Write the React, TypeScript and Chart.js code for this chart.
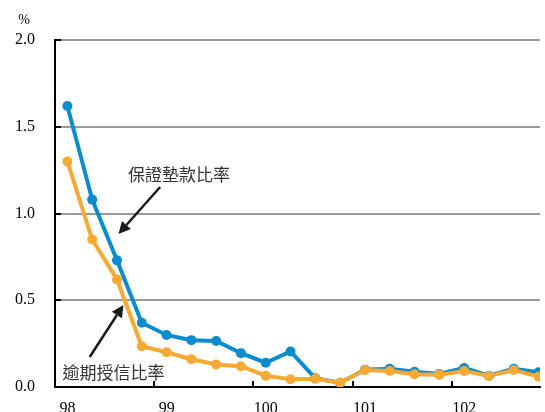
import React, { useEffect, useRef } from "react";
import { Chart, registerables } from "chart.js";

Chart.register(...registerables);

const quarters = [
  "98Q1", "98Q2", "98Q3", "98Q4",
  "99Q1", "99Q2", "99Q3", "99Q4",
  "100Q1", "100Q2", "100Q3", "100Q4",
  "101Q1", "101Q2", "101Q3", "101Q4",
  "102Q1", "102Q2", "102Q3", "102Q4",
];
const guaranteeRatio = [
  1.62, 1.08, 0.73, 0.37, 0.30, 0.27, 0.265, 0.195, 0.14, 0.205,
  0.05, 0.025, 0.10, 0.105, 0.088, 0.075, 0.11, 0.065, 0.105, 0.085,
];
const overdueRatio = [
  1.30, 0.85, 0.62, 0.235, 0.20, 0.16, 0.13, 0.12, 0.065, 0.045,
  0.048, 0.025, 0.098, 0.092, 0.073, 0.07, 0.092, 0.063, 0.098, 0.06,
];
const yearLabels = ["98", "99", "100", "101", "102"];
const yTicks = [0, 0.5, 1.0, 1.5, 2.0];

const BLUE = "#0b8ccf";
const ORANGE = "#f6a933";

const toPoints = (arr: number[]) => arr.map((v, i) => ({ x: i + 0.5, y: v }));

const decorPlugin = {
  id: "decor",
  afterDraw(chart: any) {
    const { ctx, scales, chartArea } = chart;
    const xs = scales.x;
    const ys = scales.y;
    ctx.save();
    ctx.strokeStyle = "#000";
    ctx.lineWidth = 2;
    ctx.beginPath();
    [4, 8, 12, 16].forEach((v) => {
      const px = Math.round(xs.getPixelForValue(v));
      ctx.moveTo(px, chartArea.bottom);
      ctx.lineTo(px, chartArea.bottom - 6);
    });
    yTicks.forEach((v) => {
      const py = Math.round(ys.getPixelForValue(v));
      ctx.moveTo(chartArea.left, py);
      ctx.lineTo(chartArea.left + 6, py);
    });
    ctx.stroke();

    ctx.fillStyle = "#000";
    ctx.font = "14px 'Liberation Serif'";
    ctx.textAlign = "center";
    ctx.textBaseline = "middle";
    ctx.fillText("%", 24, 20);

    const arrow = (x1: number, y1: number, x2: number, y2: number) => {
      const ax = xs.getPixelForValue(x1);
      const ay = ys.getPixelForValue(y1);
      const bx = xs.getPixelForValue(x2);
      const by = ys.getPixelForValue(y2);
      const ang = Math.atan2(by - ay, bx - ax);
      const hl = 12;
      const hw = 6;
      const baseX = bx - hl * Math.cos(ang);
      const baseY = by - hl * Math.sin(ang);
      ctx.strokeStyle = "#1a1a1a";
      ctx.fillStyle = "#1a1a1a";
      ctx.lineWidth = 2.5;
      ctx.beginPath();
      ctx.moveTo(ax, ay);
      ctx.lineTo(baseX, baseY);
      ctx.stroke();
      ctx.beginPath();
      ctx.moveTo(bx, by);
      ctx.lineTo(baseX + hw * Math.sin(ang), baseY - hw * Math.cos(ang));
      ctx.lineTo(baseX - hw * Math.sin(ang), baseY + hw * Math.cos(ang));
      ctx.closePath();
      ctx.fill();
    };
    arrow(4.24, 1.153, 2.56, 0.882);
    arrow(1.4, 0.173, 2.76, 0.473);

    ctx.fillStyle = "#333";
    ctx.font = "17px 'Noto Sans CJK TC'";
    ctx.textAlign = "center";
    ctx.textBaseline = "middle";
    ctx.fillText("保證墊款比率", xs.getPixelForValue(5.0), ys.getPixelForValue(1.222));
    ctx.fillText("逾期授信比率", xs.getPixelForValue(2.36), ys.getPixelForValue(0.081));
    ctx.restore();
  },
};

export default function App() {
  const ref = useRef<HTMLCanvasElement | null>(null);
  useEffect(() => {
    document.body.style.margin = "0";
    const canvas = ref.current!;
    const chart = new Chart(canvas, {
      type: "line",
      data: {
        labels: quarters,
        datasets: [
          {
            label: "逾期授信比率",
            data: toPoints(overdueRatio),
            borderColor: ORANGE,
            backgroundColor: ORANGE,
            borderWidth: 4,
            pointRadius: 5,
            pointBorderWidth: 0,
            pointHoverRadius: 5,
            tension: 0,
          },
          {
            label: "保證墊款比率",
            data: toPoints(guaranteeRatio),
            borderColor: BLUE,
            backgroundColor: BLUE,
            borderWidth: 4,
            pointRadius: 5,
            pointBorderWidth: 0,
            pointHoverRadius: 5,
            tension: 0,
          },
        ],
      },
      options: {
        animation: false,
        responsive: false,
        layout: { padding: { top: 40, right: 0, left: 0, bottom: 0 } },
        plugins: { legend: { display: false }, tooltip: { enabled: false } },
        scales: {
          x: {
            type: "linear",
            min: 0,
            max: 19.56,
            grid: { display: false, drawTicks: false },
            border: { color: "#000", width: 2 },
            ticks: {
              stepSize: 4,
              includeBounds: false,
              autoSkip: false,
              maxRotation: 0,
              labelOffset: 12.5,
              padding: 12,
              color: "#000",
              font: { family: "'Liberation Serif'", size: 16 },
              callback: (v: any) => {
                const idx = Math.round(Number(v) / 4);
                return Number(v) % 4 === 0 ? yearLabels[idx] ?? "" : "";
              },
            },
            afterFit: (s: any) => {
              s.height = 25;
              s.paddingLeft = 0;
              s.paddingRight = 0;
            },
          },
          y: {
            min: 0,
            max: 2,
            grid: {
              color: "#9a9a9a",
              lineWidth: 2,
              drawTicks: false,
            },
            border: { color: "#000", width: 2 },
            ticks: {
              stepSize: 0.5,
              padding: 20,
              color: "#000",
              font: { family: "'Liberation Serif'", size: 16 },
              callback: (v: any) => Number(v).toFixed(1),
            },
            afterFit: (s: any) => {
              s.width = 55;
              s.paddingTop = 0;
              s.paddingBottom = 0;
            },
          },
        },
      },
      plugins: [decorPlugin],
    });
    return () => chart.destroy();
  }, []);
  return <canvas ref={ref} width={545} height={412} style={{ display: "block" }} />;
}
